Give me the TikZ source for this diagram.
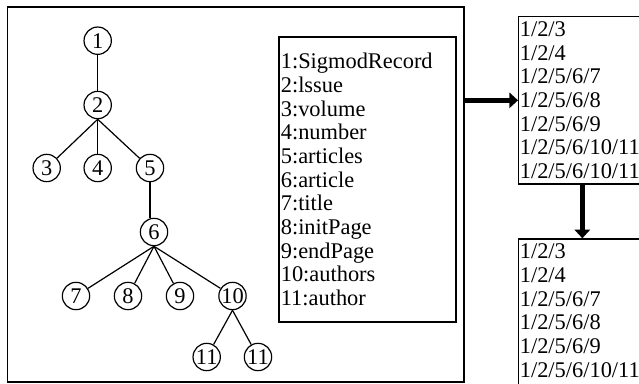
\documentclass[tikz,border=0pt]{standalone}
\usepackage{fontspec}
\setmainfont{Liberation Serif}
\usetikzlibrary{arrows.meta,calc}
\tikzset{
  txtfont/.style={font=\fontsize{16.8}{17.75}\selectfont},
  tn/.style={circle, draw, line width=0.9pt, minimum size=20.5pt, inner sep=0pt, txtfont},
  edge/.style={line width=0.9pt},
  boxline/.style={draw, line width=1pt, rectangle, inner sep=0pt},
  listtext/.style={txtfont, align=left, inner sep=0pt, anchor=north west},
  bigarrow/.style={line width=3.75pt, -{Triangle[width=11.5pt,length=6.5pt]}}
}
\begin{document}
\begin{tikzpicture}[x=0.75pt,y=-0.75pt]
\useasboundingbox (0,0) rectangle (639,384);
\clip (0,0) rectangle (639,384);
% frame
\node[boxline, minimum width=342.4pt, minimum height=281.25pt] (frame) at (235.75,194.5) {};
% tree
\node[tn] (n1) at (97.7,40.7) {1};
\node[tn] (n2) at (97.7,105) {2};
\node[tn] (n3) at (46.7,168) {3};
\node[tn] (n4) at (97.7,168) {4};
\node[tn] (n5) at (150,168) {5};
\node[tn] (n6) at (154,232) {6};
\node[tn] (n7) at (76,296) {7};
\node[tn] (n8) at (128,296) {8};
\node[tn] (n9) at (180,296) {9};
\node[tn] (n10) at (232.5,296) {10};
\node[tn] (n11a) at (206.7,357) {11};
\node[tn] (n11b) at (258,357) {11};
\draw[edge] (n1) -- (n2);
\draw[edge] (n2.south) -- (n3);
\draw[edge] (n2.south) -- (n4);
\draw[edge] (n2.south) -- (n5);
\draw[edge] (n5.south) -- (n5.south |- n6.north);
\draw[edge] (n6.south) -- (n7);
\draw[edge] (n6.south) -- (n8);
\draw[edge] (n6.south) -- (n9);
\draw[edge] (n6.south) -- (n10);
\draw[edge] (n10.south) -- (n11a);
\draw[edge] (n10.south) -- (n11b);
% legend
\node[boxline, txtfont, align=left, minimum width=132.75pt, minimum height=213.75pt, text width=130pt, inner xsep=1.4pt] (legend) at (367.5,179.5)
{1:SigmodRecord\\2:lssue\\3:volume\\4:number\\5:articles\\6:article\\7:title\\8:initPage\\9:endPage\\10:authors\\11:author};
% list boxes
\node[boxline, anchor=north west, minimum width=95.5pt, minimum height=125.5pt] (upper) at (518,16) {};
\node[listtext] (uppertext) at ($(upper.north west)+(1.2pt,-4.1pt)$)
{1/2/3\\1/2/4\\1/2/5/6/7\\1/2/5/6/8\\1/2/5/6/9\\1/2/5/6/10/11\\1/2/5/6/10/11};
\node[boxline, anchor=north west, minimum width=95.5pt, minimum height=150pt] (lower) at (518,238.3) {};
\node[listtext] (lowertext) at ($(lower.north west)+(1.2pt,-4.1pt)$)
{1/2/3\\1/2/4\\1/2/5/6/7\\1/2/5/6/8\\1/2/5/6/9\\1/2/5/6/10/11};
% arrows
\draw[bigarrow] (upper.west -| frame.east) -- (upper.west);
\draw[bigarrow] (upper.south) -- (lower.north);
\end{tikzpicture}
\end{document}
